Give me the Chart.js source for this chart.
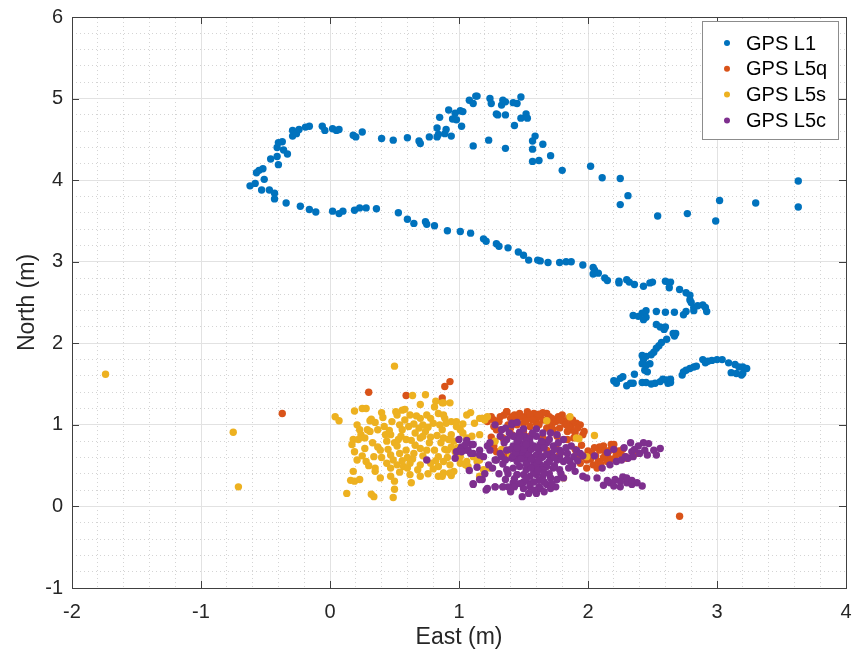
<!DOCTYPE html>
<html>
<head>
<meta charset="utf-8">
<script src="https://cdn.jsdelivr.net/npm/chart.js@4.4.1/dist/chart.umd.min.js"></script>
<style>
  html, body { margin: 0; padding: 0; background: #fff; }
  #wrap { width: 855px; height: 656px; }
</style>
</head>
<body>
<div id="wrap"><canvas id="myChart" width="855" height="656"></canvas></div>
<script>
// East / North positions in metres
const seriesNames = ['GPS L1', 'GPS L5q', 'GPS L5s', 'GPS L5c'];
const seriesColors = ['#0072BD', '#D95319', '#EDB120', '#7E2F8E'];
const xTicks = [-2, -1, 0, 1, 2, 3, 4];
const yTicks = [-1, 0, 1, 2, 3, 4, 5, 6];

const gpsL1 = [
  [-0.62,3.93],[-0.58,3.96],[-0.53,3.88],[-0.47,3.88],[-0.43,3.84],[-0.43,3.77],[-0.34,3.72],[-0.23,3.68],
  [-0.16,3.64],[-0.11,3.61],[0.02,3.62],[0.07,3.59],[0.10,3.62],[0.19,3.63],[0.23,3.66],[0.28,3.66],
  [0.36,3.65],[0.53,3.60],[0.60,3.52],[0.65,3.47],[0.74,3.49],[0.75,3.46],[0.81,3.44],[0.91,3.38],
  [1.01,3.37],[1.09,3.35],[1.19,3.28],[1.21,3.25],[1.29,3.22],[1.31,3.19],[1.38,3.17],[1.46,3.12],
  [1.50,3.08],[1.54,3.02],[1.61,3.02],[1.63,3.01],[1.69,2.99],[1.78,2.99],[1.83,3.00],[1.87,3.00],
  [1.96,2.96],[2.04,2.93],[2.05,2.90],[2.04,2.85],[2.08,2.86],[2.13,2.80],[2.15,2.77],[2.24,2.76],
  [2.24,2.74],[2.30,2.78],[2.32,2.75],[2.36,2.72],[2.43,2.70],[2.48,2.74],[2.50,2.75],[2.60,2.76],
  [2.63,2.74],[2.64,2.75],[2.63,2.68],[2.71,2.66],[2.76,2.62],[2.79,2.59],[2.79,2.53],[2.80,2.50],
  [2.82,2.44],[2.85,2.46],[2.89,2.47],[2.91,2.44],[2.92,2.39],[2.82,2.40],[2.76,2.39],[2.74,2.35],
  [2.67,2.38],[2.60,2.38],[2.53,2.39],[2.45,2.40],[2.42,2.37],[2.35,2.34],[2.39,2.33],[2.43,2.29],
  [2.45,2.32],[2.53,2.23],[2.56,2.20],[2.59,2.17],[2.60,2.20],[2.66,2.12],[2.67,2.09],[2.68,2.12],
  [2.61,2.05],[2.57,2.01],[2.55,1.97],[2.53,1.94],[2.51,1.89],[2.49,1.86],[2.45,1.84],[2.42,1.85],
  [2.43,1.80],[2.42,1.75],[2.45,1.73],[2.48,1.75],[2.44,1.67],[2.46,1.65],[2.36,1.62],[2.27,1.59],
  [2.25,1.57],[2.21,1.53],[2.20,1.54],[2.22,1.51],[2.30,1.48],[2.33,1.51],[2.35,1.51],[2.42,1.52],
  [2.45,1.52],[2.49,1.50],[2.52,1.51],[2.56,1.53],[2.58,1.56],[2.61,1.55],[2.64,1.56],[2.62,1.51],
  [2.64,1.52],[2.73,1.61],[2.74,1.65],[2.76,1.67],[2.79,1.69],[2.82,1.71],[2.84,1.72],[2.89,1.80],
  [2.91,1.76],[2.93,1.78],[2.96,1.79],[3.00,1.80],[3.04,1.80],[3.09,1.76],[3.14,1.74],[3.17,1.71],
  [3.20,1.71],[3.23,1.69],[3.20,1.63],[3.15,1.63],[3.11,1.64],[3.19,1.61],
  [-0.57,4.09],[-0.55,4.12],[-0.52,4.14],[-0.51,4.01],[-0.46,4.26],[-0.41,4.29],[-0.40,4.19],[-0.41,4.40],
  [-0.40,4.46],[-0.37,4.47],[-0.36,4.37],[-0.33,4.32],[-0.29,4.54],[-0.29,4.61],[-0.26,4.57],[-0.24,4.62],
  [-0.19,4.65],[-0.16,4.66],[-0.06,4.66],[-0.04,4.61],[0.02,4.63],[0.05,4.61],[0.07,4.62],[0.18,4.55],
  [0.20,4.53],[0.25,4.59],[0.40,4.51],[0.49,4.49],[0.60,4.52],[0.69,4.48],[0.70,4.45],[0.77,4.53],
  [0.83,4.53],[0.84,4.56],[0.83,4.64],[0.89,4.57],[0.90,4.62],[0.94,4.54],[0.85,4.77],[0.92,4.86],
  [0.97,4.82],[0.95,4.75],[0.98,4.74],[1.01,4.85],[1.03,4.84],[1.02,4.66],[1.08,4.98],[1.11,4.94],
  [1.13,5.03],[1.14,5.03],[1.11,4.42],[1.23,4.49],[1.24,5.00],[1.25,4.94],[1.29,4.81],[1.30,4.80],
  [1.33,4.92],[1.34,4.98],[1.36,4.96],[1.36,4.80],[1.36,4.39],[1.42,4.95],[1.45,4.94],[1.48,5.02],
  [1.43,4.67],[1.48,4.76],[1.52,4.81],[1.53,4.76],[1.59,4.54],[1.57,4.48],[1.65,4.44],[1.57,4.38],
  [1.57,4.23],[1.62,4.24],[1.71,4.30],[1.80,4.12],[2.02,4.17],[2.11,4.03],[2.25,4.02],[2.31,3.81],
  [2.25,3.70],[2.54,3.56],[2.77,3.59],[3.02,3.75],[2.99,3.50],[3.30,3.72],[3.63,3.99],[3.63,3.67]
];

const gpsL5q = [
  [-0.37,1.14],[0.30,1.40],[0.59,1.36],[0.93,1.53],[0.89,1.47],[0.87,1.33],[2.71,-0.12],
  [1.18,1.08],[1.27,1.06],[1.37,1.16],[1.41,1.10],[1.45,1.04],[1.29,0.94],[1.34,0.84],[1.27,0.74],[1.37,0.69],
  [1.25,1.10],[1.31,1.04],[1.37,1.16],[1.40,1.08],[1.43,1.12],[1.47,1.14],[1.51,1.10],[1.53,1.16],
  [1.58,1.14],[1.60,1.08],[1.63,1.11],[1.65,1.06],[1.68,1.14],[1.72,1.08],[1.75,1.04],[1.77,1.10],
  [1.80,1.05],[1.82,1.02],[1.85,1.08],[1.87,1.00],[1.91,1.02],[1.94,1.00],[1.27,0.98],[1.33,0.94],
  [1.40,0.96],[1.45,1.00],[1.50,1.02],[1.55,0.98],[1.62,1.00],[1.68,0.96],[1.73,0.94],[1.78,0.96],
  [1.84,0.92],[1.87,0.94],[1.41,0.88],[1.49,0.88],[1.55,0.86],[1.65,0.84],[1.76,0.86],[1.84,0.82],
  [1.89,0.84],[1.96,0.88],[1.24,0.74],[1.29,0.67],[1.36,0.61],[1.68,0.69],[1.75,0.74],[1.78,0.63],
  [1.91,0.67],[1.96,0.61],[1.99,0.57],[2.03,0.65],[2.04,0.51],[2.08,0.55],[2.09,0.69],[2.12,0.74],
  [2.15,0.63],[2.17,0.69],[2.18,0.76],[2.21,0.59],[2.25,0.65],[2.29,0.61],[2.07,0.47],[1.99,0.47],
  [1.94,0.53],[2.09,0.73],[2.20,0.76],[2.30,0.59],[2.38,0.65],
  [1.98,0.62],[2.02,0.58],[2.06,0.62],[2.12,0.60],[2.15,0.55],[2.00,0.68],[1.95,0.75],[1.90,0.70],
  [2.24,0.68],[2.27,0.70],[1.55,1.12],[1.60,1.02],[1.72,1.00],[1.80,1.12],[1.45,1.08],[1.65,1.15],
  [1.50,0.92],[1.85,0.98],[1.90,0.90],[1.25,0.85],
  [1.35,1.12],[1.42,1.05],[1.48,1.10],[1.57,1.06],[1.62,1.13],[1.70,1.10],[1.78,1.06],[1.83,1.00],
  [1.88,1.06],[1.92,0.96],[1.97,0.92],[1.70,1.02],[1.52,1.05],[1.38,1.00],[1.32,1.10],[1.22,1.04],
  [2.10,0.52],[2.18,0.58],[2.22,0.64],[2.05,0.72],[1.93,0.60],[2.13,0.68]
];

const gpsL5s = [
  [-1.74,1.62],[-0.75,0.91],[-0.71,0.24],
  [0.50,1.72],[0.04,1.10],[0.07,1.05],[0.19,1.17],[0.25,1.20],[0.28,1.20],[0.32,1.07],[0.31,1.05],[0.40,1.15],
  [0.41,1.09],[0.51,1.16],[0.52,1.12],[0.56,1.18],[0.58,1.19],[0.64,1.36],[0.74,1.37],[0.70,1.25],
  [0.82,1.29],[0.81,1.22],[0.87,1.27],[0.93,1.27],[0.62,1.12],[0.67,1.11],[0.70,1.08],[0.75,1.12],
  [0.78,1.08],[0.84,1.14],[0.88,1.12],[0.89,1.08],[0.94,1.04],[0.90,1.02],
  [0.21,1.00],[0.23,0.94],[0.29,0.94],[0.24,0.88],[0.31,0.92],[0.37,0.94],[0.43,0.88],[0.47,0.88],
  [0.54,1.00],[0.56,0.94],[0.61,0.98],[0.65,1.01],[0.69,0.96],[0.72,1.00],[0.76,0.97],[0.80,1.02],
  [0.85,1.00],[0.87,0.94],[0.98,1.04],[1.03,1.01],[1.09,1.15],[1.12,1.02],[1.16,1.08],[1.20,1.06],
  [0.18,0.82],[0.17,0.76],[0.22,0.82],[0.27,0.71],[0.37,0.73],[0.39,0.69],[0.44,0.80],[0.50,0.78],
  [0.53,0.82],[0.59,0.82],[0.63,0.81],[0.70,0.84],[0.72,0.86],[0.78,0.85],[0.83,0.87],[0.88,0.84],
  [0.92,0.82],[0.94,0.88],[1.01,0.94],[1.06,0.84],
  [0.19,0.67],[0.21,0.57],[0.28,0.55],[0.34,0.61],[0.47,0.63],[0.49,0.57],[0.54,0.65],[0.59,0.69],
  [0.65,0.65],[0.70,0.71],[0.75,0.69],[0.81,0.69],[0.84,0.61],[0.89,0.70],[0.94,0.73],[0.97,0.67],
  [1.03,0.69],[1.06,0.55],[1.11,0.61],[1.16,0.57],
  [0.35,0.47],[0.35,0.43],[0.44,0.53],[0.47,0.47],[0.52,0.51],[0.57,0.49],[0.62,0.53],[0.70,0.51],
  [0.78,0.53],[0.84,0.49],[0.88,0.55],[0.93,0.51],[1.01,0.53],[1.07,0.49],
  [0.18,0.43],[0.16,0.32],[0.19,0.31],[0.23,0.33],[0.39,0.35],[0.47,0.37],[0.54,0.42],[0.62,0.39],
  [0.63,0.29],[0.70,0.37],[0.84,0.37],[0.88,0.41],[0.94,0.38],[0.96,0.43],[0.50,0.31],[0.50,0.21],
  [0.13,0.16],[0.32,0.15],[0.34,0.12],[0.49,0.11],[1.16,0.37],[1.06,1.12],
  [0.88,1.27],[0.98,0.98],[1.18,1.08],[1.22,1.10],[1.16,0.88],[1.10,0.86],[1.03,0.90],[1.05,0.51],
  [0.93,0.41],[0.87,0.37],[0.91,0.69],[1.01,0.61],[1.14,0.55],[1.19,0.45],[1.24,0.47],
  [1.68,1.05],[1.86,1.10],[2.05,0.87],[1.91,0.84],[1.81,0.35],[1.99,0.61],[1.93,0.83],
  [1.28,0.80],[1.33,0.70],[1.40,0.62],
  [0.27,0.84],[0.33,0.78],[0.45,0.70],[0.52,0.74],[0.60,0.60],[0.66,0.75],[0.72,0.62],[0.77,0.78],
  [0.82,0.56],[0.86,0.78],[0.91,0.60],[0.96,0.80],[0.99,0.72],[0.42,0.98],[0.48,1.04],[0.58,1.06],
  [0.66,0.90],[0.74,0.92],[0.80,0.46],[0.56,0.56],[0.40,0.60],[0.30,0.50],[0.25,0.62],[0.68,0.45],
  [0.76,0.40],[0.64,0.58],[0.55,0.86],[0.46,0.93],[0.35,1.03],[0.60,0.47]
];

const gpsL5c = [
  [0.75,0.57],[1.00,0.82],[1.06,0.81],[1.10,0.76],[1.02,0.73],[0.98,0.67],[0.97,0.59],[1.05,0.69],
  [1.07,0.69],[1.11,0.65],[1.16,0.69],[1.19,0.61],[1.24,0.69],[1.23,0.51],[1.28,0.57],[1.33,0.61],
  [1.11,0.28],[1.18,0.33],[1.21,0.20],[1.28,0.24],[1.34,0.24],[1.42,0.29],[1.45,0.39],[1.41,1.00],
  [1.33,0.94],[1.43,0.86],[1.47,0.78],
  [1.28,1.00],[1.36,0.96],[1.41,1.02],[1.45,1.03],[1.47,0.91],[1.32,0.86],[1.37,0.82],[1.42,0.86],
  [1.51,0.86],[1.55,0.84],[1.60,0.86],[1.65,0.90],[1.71,0.90],[1.76,0.88],[1.81,0.82],[1.87,0.74],
  [1.91,0.69],[1.94,0.65],[1.89,0.61],[1.84,0.65],[1.78,0.69],[1.73,0.74],[1.68,0.78],[1.63,0.76],
  [1.58,0.74],[1.53,0.71],[1.47,0.74],[1.42,0.74],[1.37,0.69],[1.32,0.65],[1.29,0.57],[1.36,0.57],
  [1.41,0.59],[1.46,0.61],[1.50,0.63],[1.55,0.61],[1.60,0.63],[1.65,0.61],[1.71,0.59],[1.76,0.57],
  [1.81,0.55],[1.86,0.55],[1.90,0.43],[1.85,0.47],[1.78,0.45],[1.73,0.47],[1.68,0.49],[1.63,0.51],
  [1.58,0.49],[1.53,0.51],[1.47,0.49],[1.42,0.47],[1.37,0.45],[1.45,0.39],[1.50,0.39],[1.55,0.37],
  [1.60,0.39],[1.65,0.37],[1.71,0.35],[1.76,0.33],[1.81,0.35],[1.68,0.27],[1.62,0.24],[1.55,0.24],
  [1.50,0.22],[1.43,0.24],[1.38,0.24],[1.34,0.24],[1.28,0.24],[1.22,0.22],[1.16,0.33],[1.11,0.27],
  [1.54,0.16],[1.49,0.12],[1.60,0.16],[1.63,0.22],[1.71,0.22],[1.75,0.24],[1.22,0.74],[1.24,0.78],
  [1.11,0.76],[1.16,0.63],[1.05,0.76],[1.01,0.70],[1.02,0.67],[1.09,0.65],
  [1.96,0.37],[1.99,0.35],[2.07,0.35],[2.12,0.26],[2.17,0.29],[2.21,0.33],[2.25,0.31],[2.27,0.36],
  [2.30,0.29],[2.34,0.27],[2.38,0.29],[2.42,0.25],[2.25,0.24],[2.20,0.25],[2.11,0.47],[2.17,0.51],
  [2.22,0.55],[2.26,0.57],[2.29,0.61],[2.31,0.59],[2.34,0.67],[2.33,0.78],[2.39,0.74],[2.40,0.65],
  [2.44,0.69],[2.47,0.77],[2.51,0.69],[2.56,0.71],[2.53,0.63],[2.46,0.63],[2.35,0.61],
  [1.45,0.55],[1.52,0.58],[1.58,0.55],[1.62,0.68],[1.55,0.78],[1.48,0.66],[1.65,0.45],[1.72,0.65],
  [1.68,0.52],[1.58,0.42],[1.52,0.45],[1.62,0.32],[1.55,0.28],[1.50,0.30],[1.70,0.40],[1.78,0.60],
  [1.60,0.95],[1.50,0.95],[1.45,0.80],[1.42,0.62],[1.66,0.72],[1.60,0.50],[1.54,0.64],[1.74,0.50],
  [1.64,0.60],[1.56,0.70],
  [1.35,0.78],[1.40,0.70],[1.44,0.66],[1.48,0.58],[1.52,0.52],[1.56,0.47],[1.61,0.44],[1.66,0.41],
  [1.70,0.55],[1.74,0.60],[1.79,0.66],[1.83,0.72],[1.77,0.78],[1.70,0.82],[1.64,0.80],[1.57,0.90],
  [1.52,0.80],[1.47,0.84],[1.39,0.90],[1.34,0.52],[1.38,0.40],[1.43,0.34],[1.47,0.28],[1.52,0.34],
  [1.58,0.30],[1.66,0.30],[1.72,0.28],[1.79,0.40],[1.84,0.58],[1.88,0.50],[1.92,0.56],[1.96,0.62],
  [1.62,0.56],[1.56,0.58],[1.50,0.70],[1.45,0.72],[1.68,0.64],[1.74,0.70],[1.60,0.72],[1.52,0.76],
  [1.26,0.47],[1.31,0.40],[1.36,0.33],[1.40,0.18],[1.58,0.20],[1.66,0.18],[1.20,0.40],[1.14,0.48],
  [1.08,0.44],[2.05,0.62],[2.15,0.66],[2.20,0.70],[2.28,0.72],[2.36,0.70],[2.43,0.78],[2.30,0.35],
  [2.34,0.32],[2.15,0.32]
];

const allSeries = [gpsL1, gpsL5q, gpsL5s, gpsL5c];
const FONT = '"Liberation Sans", Arial, Helvetica, sans-serif';
const AXIS_COLOR = '#262626';

const isMajor = v => Math.abs(v - Math.round(v)) < 1e-6;
const minorGridColor = ctx => (ctx.tick && isMajor(ctx.tick.value)) ? 'rgba(0,0,0,0)' : '#d4d4d4';

// MATLAB style box: inward ticks plus a legend inside the axes
const matlabBox = {
    id: 'matlabBox',
    afterDatasetsDraw(chart) {
        const { ctx, chartArea: a, scales } = chart;
        ctx.save();
        ctx.strokeStyle = '#404040';
        ctx.lineWidth = 1;
        ctx.beginPath();
        xTicks.forEach(v => {
            const px = Math.round(scales.x.getPixelForValue(v)) + 0.5;
            ctx.moveTo(px, a.bottom); ctx.lineTo(px, a.bottom - 7);
            ctx.moveTo(px, a.top); ctx.lineTo(px, a.top + 7);
        });
        yTicks.forEach(v => {
            const py = Math.round(scales.y.getPixelForValue(v)) + 0.5;
            ctx.moveTo(a.left, py); ctx.lineTo(a.left + 7, py);
            ctx.moveTo(a.right, py); ctx.lineTo(a.right - 7, py);
        });
        ctx.stroke();
        ctx.restore();
    },
    afterDraw(chart) {
        const { ctx, chartArea: a } = chart;
        const w = 136, h = 118;
        const bx = a.right - 8 - w, by = a.top + 4;
        ctx.save();
        ctx.fillStyle = '#ffffff';
        ctx.fillRect(bx, by, w, h);
        ctx.strokeStyle = '#8c8c8c';
        ctx.lineWidth = 1;
        ctx.strokeRect(bx + 0.5, by + 0.5, w, h);
        ctx.font = '20px ' + FONT;
        ctx.textBaseline = 'middle';
        seriesNames.forEach((name, i) => {
            const cy = by + 22 + i * 25.8;
            ctx.fillStyle = seriesColors[i];
            ctx.beginPath();
            ctx.arc(bx + 25, cy, 3, 0, Math.PI * 2);
            ctx.fill();
            ctx.fillStyle = '#000000';
            ctx.fillText(name, bx + 44, cy + 1);
        });
        ctx.restore();
    }
};

document.addEventListener('DOMContentLoaded', () => {
    const ctx = document.getElementById('myChart').getContext('2d');

    const datasets = allSeries.map((pts, i) => ({
        label: seriesNames[i],
        data: pts.map(p => ({ x: p[0], y: p[1] })),
        backgroundColor: seriesColors[i],
        borderWidth: 0,
        pointRadius: 3.7,
        pointHoverRadius: 3.7,
        order: allSeries.length - 1 - i, // later series drawn on top, like MATLAB
    }));

    new Chart(ctx, {
        type: 'scatter',
        data: { datasets },
        options: {
            responsive: false,
            animation: false,
            layout: { padding: 0 },
            plugins: {
                legend: { display: false },
                tooltip: { enabled: false },
            },
            scales: {
                x: {
                    type: 'linear',
                    position: 'bottom',
                    min: -2, max: 4,
                    afterBuildTicks: s => { s.ticks = xTicks.map(v => ({ value: v })); },
                    ticks: { color: AXIS_COLOR, font: { family: FONT, size: 20 }, padding: 12, maxRotation: 0 },
                    grid: { color: '#e2e2e2', drawTicks: false },
                    border: { color: '#404040', width: 1 },
                    title: {
                        display: true, text: 'East (m)', color: AXIS_COLOR,
                        font: { family: FONT, size: 23 }, padding: { top: 0, bottom: 5 }
                    },
                    afterFit: s => { s.height = 68; s.paddingLeft = 0; s.paddingRight = 0; },
                },
                xMinor: {
                    type: 'linear',
                    position: 'top',
                    min: -2, max: 4,
                    ticks: { display: false, stepSize: 0.2 },
                    grid: { color: minorGridColor, drawTicks: false },
                    border: { color: '#404040', width: 1, dash: [1, 3] },
                    afterFit: s => { s.height = 17; s.paddingLeft = 0; s.paddingRight = 0; },
                },
                y: {
                    type: 'linear',
                    position: 'left',
                    min: -1, max: 6,
                    afterBuildTicks: s => { s.ticks = yTicks.map(v => ({ value: v })); },
                    ticks: { color: AXIS_COLOR, font: { family: FONT, size: 20 }, padding: 9 },
                    grid: { color: '#e2e2e2', drawTicks: false },
                    border: { color: '#404040', width: 1 },
                    title: {
                        display: true, text: 'North (m)', color: AXIS_COLOR,
                        font: { family: FONT, size: 23 }, padding: { top: 14, bottom: 0 }
                    },
                    afterFit: s => { s.width = 72; s.paddingTop = 0; s.paddingBottom = 0; },
                },
                yMinor: {
                    type: 'linear',
                    position: 'right',
                    min: -1, max: 6,
                    ticks: { display: false, stepSize: 0.2 },
                    grid: { color: minorGridColor, drawTicks: false },
                    border: { color: '#404040', width: 1, dash: [1, 3] },
                    afterFit: s => { s.width = 9; s.paddingTop = 0; s.paddingBottom = 0; },
                },
            },
        },
        plugins: [matlabBox],
    });
});
</script>
</body>
</html>
